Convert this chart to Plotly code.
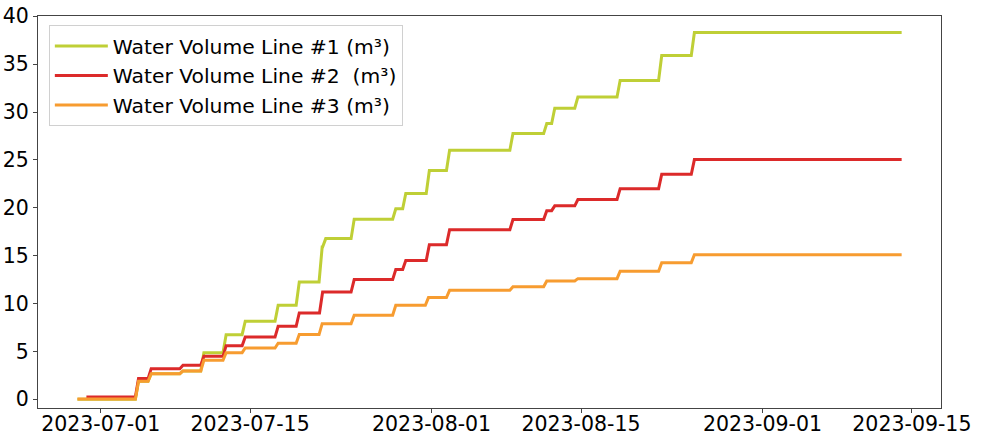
import pandas as pd
import plotly.graph_objects as go

# ---- data ----
series_names = ["Water Volume Line #1 (m³)",
                "Water Volume Line #2 \u00a0(m³)",
                "Water Volume Line #3 (m³)"]

start_times = ["2023-06-28 19:40", "2023-06-29 15:50", "2023-06-28 19:40"]
start_vals = [0.0, 0.24, 0.03]
end_time = "2023-09-14 01:00"

green_times = ["2023-07-04 06:00", "2023-07-05 10:30", "2023-07-08 10:00", "2023-07-10 09:00",
               "2023-07-12 11:00", "2023-07-14 06:00", "2023-07-17 08:00", "2023-07-19 07:30",
               "2023-07-21 11:00", "2023-07-21 19:00", "2023-07-24 11:00", "2023-07-28 08:30",
               "2023-07-29 07:00", "2023-07-31 12:00", "2023-08-02 09:30", "2023-08-08 08:00",
               "2023-08-11 12:00", "2023-08-12 06:00", "2023-08-14 10:00", "2023-08-18 09:00",
               "2023-08-22 06:30", "2023-08-25 08:00"]
green_vals = [1.88, 2.68, 2.96, 4.87, 6.75, 8.15, 9.82, 12.25, 15.9, 16.78, 18.8, 19.9,
              21.5, 23.9, 26.0, 27.75, 28.8, 30.4, 31.57, 33.3, 35.9, 38.3]

red_times = ["2023-07-04 06:00", "2023-07-05 10:30", "2023-07-08 10:00", "2023-07-10 09:00",
             "2023-07-12 11:00", "2023-07-14 06:00", "2023-07-17 08:00", "2023-07-19 07:30",
             "2023-07-21 12:00", "2023-07-24 11:00", "2023-07-28 08:30", "2023-07-29 07:00",
             "2023-07-31 12:00", "2023-08-02 09:30", "2023-08-08 08:00", "2023-08-11 12:00",
             "2023-08-12 06:00", "2023-08-14 10:00", "2023-08-18 09:00", "2023-08-22 06:30",
             "2023-08-25 08:00"]
red_vals = [2.16, 3.2, 3.55, 4.49, 5.6, 6.5, 7.62, 9.01, 11.2, 12.5, 13.55, 14.5, 16.15,
            17.7, 18.77, 19.7, 20.2, 20.86, 22.0, 23.5, 25.03]

orange_times = ["2023-07-04 06:00", "2023-07-05 10:30", "2023-07-08 10:00", "2023-07-10 09:00",
                "2023-07-12 11:00", "2023-07-14 06:00", "2023-07-17 08:00", "2023-07-19 07:30",
                "2023-07-21 11:00", "2023-07-24 11:00", "2023-07-28 08:30", "2023-07-31 10:00",
                "2023-08-02 09:30", "2023-08-08 08:00", "2023-08-11 12:00", "2023-08-14 10:00",
                "2023-08-18 09:00", "2023-08-22 06:30", "2023-08-25 08:00"]
orange_vals = [1.88, 2.68, 2.96, 4.07, 4.87, 5.36, 5.85, 6.76, 7.9, 8.77, 9.82, 10.62,
               11.38, 11.75, 12.36, 12.6, 13.37, 14.27, 15.1]

x_tick_vals = ["2023-07-01", "2023-07-15", "2023-08-01", "2023-08-15", "2023-09-01", "2023-09-15"]
y_tick_vals = [0, 5, 10, 15, 20, 25, 30, 35, 40]

colors = ["#bfcf36", "#dc2a2a", "#f79c30"]
RISE = pd.Timedelta(hours=7)


def step_series(start, start_val, times, vals, end):
    xs = [pd.Timestamp(start)]
    ys = [start_val]
    prev = start_val
    for t, v in zip(times, vals):
        t = pd.Timestamp(t)
        xs += [t, t + RISE]
        ys += [prev, v]
        prev = v
    xs.append(pd.Timestamp(end))
    ys.append(prev)
    return xs, ys


all_times = [green_times, red_times, orange_times]
all_vals = [green_vals, red_vals, orange_vals]

fig = go.Figure()
for i in range(3):
    xs, ys = step_series(start_times[i], start_vals[i], all_times[i], all_vals[i], end_time)
    fig.add_trace(go.Scatter(x=xs, y=ys, mode="lines", name=series_names[i],
                             line=dict(color=colors[i], width=3)))

axis_common = dict(showgrid=False, zeroline=False, showline=True, linecolor="#444",
                   linewidth=1, mirror=True, ticks="outside", ticklen=4, tickcolor="#444",
                   tickfont=dict(size=20.5, color="black"), automargin=False)

fig.update_layout(
    width=981, height=437,
    margin=dict(l=38, r=40, t=16, b=29),
    paper_bgcolor="white", plot_bgcolor="white",
    font=dict(family="DejaVu Sans", size=20, color="black"),
    xaxis=dict(range=["2023-06-25 03:00", "2023-09-17 17:30"], tickvals=x_tick_vals,
               tickformat="%Y-%m-%d", ticklabelstandoff=-7, **axis_common),
    yaxis=dict(range=[-0.91, 40.03], tickvals=y_tick_vals, **axis_common),
    legend=dict(x=0.012, y=0.976, xanchor="left", yanchor="top",
                bgcolor="rgba(255,255,255,0.85)", bordercolor="#d0d0d0", borderwidth=1,
                font=dict(size=20.3, color="black"), itemwidth=53),
    showlegend=True,
)

# remove the default 8px page margin so the figure sits at the window's corner
fig.write_html("out.html", config={"displayModeBar": False},
               post_script="document.body.style.margin='0';document.body.style.overflow='hidden';")
